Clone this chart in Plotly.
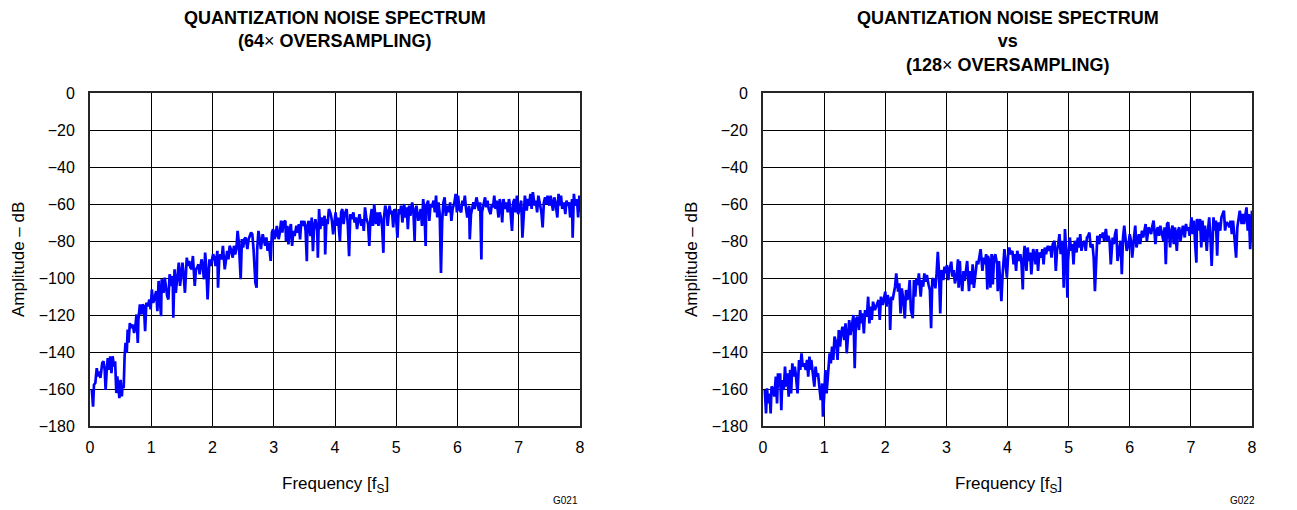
import plotly.graph_objects as go
from plotly.subplots import make_subplots

# ---- values ---------------------------------------------------------------
Y_TICKS = [0, -20, -40, -60, -80, -100, -120, -140, -160, -180]
Y_TICK_TEXT = ["0", "\u221220", "\u221240", "\u221260", "\u221280", "\u2212100",
               "\u2212120", "\u2212140", "\u2212160", "\u2212180"]
X_TICKS = [0, 1, 2, 3, 4, 5, 6, 7, 8]

# 64x oversampling: frequency [fS] / amplitude [dB]
LEFT_FREQ = [
    0.03, 0.05, 0.065, 0.087, 0.11, 0.13, 0.15, 0.17, 0.2, 0.22,
    0.24, 0.255, 0.27, 0.29, 0.315, 0.33, 0.35, 0.37, 0.39, 0.41,
    0.43, 0.445, 0.47, 0.48, 0.5, 0.52, 0.53, 0.55, 0.565, 0.58,
    0.6, 0.615, 0.63, 0.65, 0.67, 0.7, 0.72, 0.74, 0.76, 0.78,
    0.79, 0.815, 0.84, 0.86, 0.88, 0.9, 0.92, 0.945, 0.97, 0.99,
    1.01, 1.03, 1.05, 1.08, 1.1, 1.12, 1.14, 1.16, 1.17, 1.2,
    1.22, 1.24, 1.26, 1.28, 1.3, 1.33, 1.35, 1.36, 1.38, 1.4,
    1.42, 1.45, 1.47, 1.49, 1.51, 1.53, 1.55, 1.58, 1.6, 1.62,
    1.64, 1.66, 1.68, 1.71, 1.73, 1.75, 1.77, 1.79, 1.82, 1.84,
    1.86, 1.88, 1.9, 1.92, 1.95, 1.97, 1.99, 2.01, 2.03, 2.05,
    2.08, 2.09, 2.11, 2.13, 2.15, 2.17, 2.2, 2.22, 2.24, 2.26,
    2.28, 2.3, 2.33, 2.35, 2.37, 2.39, 2.41, 2.43, 2.46, 2.48,
    2.5, 2.52, 2.54, 2.57, 2.59, 2.61, 2.63, 2.65, 2.67, 2.7,
    2.72, 2.73, 2.75, 2.77, 2.79, 2.82, 2.84, 2.86, 2.88, 2.9,
    2.92, 2.95, 2.97, 2.99, 3.01, 3.03, 3.05, 3.08, 3.1, 3.12,
    3.14, 3.16,
    3.19, 3.2, 3.22, 3.24, 3.26, 3.28, 3.3, 3.32, 3.34, 3.37,
    3.39, 3.41, 3.43, 3.45, 3.48, 3.5, 3.52, 3.54, 3.55, 3.57,
    3.6, 3.62, 3.64, 3.66, 3.68, 3.71, 3.72, 3.74, 3.76, 3.78,
    3.8, 3.83, 3.84, 3.86, 3.88, 3.9, 3.93, 3.95, 3.97, 3.99,
    4.01, 4.03, 4.05, 4.08, 4.1, 4.12, 4.14, 4.16, 4.19, 4.21,
    4.23, 4.25, 4.27, 4.3, 4.32, 4.34, 4.36, 4.38, 4.4, 4.43,
    4.45, 4.47, 4.49, 4.51, 4.54, 4.56, 4.58, 4.6, 4.62, 4.64,
    4.67, 4.69, 4.71, 4.73, 4.75, 4.77, 4.79, 4.8, 4.82, 4.84,
    4.86, 4.89, 4.91, 4.93, 4.95, 4.97, 4.99, 5.02, 5.04, 5.06,
    5.08, 5.1, 5.13, 5.15, 5.17, 5.19, 5.21, 5.23, 5.26, 5.28,
    5.3, 5.31, 5.33, 5.36, 5.38, 5.4, 5.42, 5.44, 5.46, 5.48,
    5.49, 5.52, 5.54, 5.56, 5.58, 5.61, 5.63, 5.65, 5.67, 5.69,
    5.71, 5.73, 5.75, 5.77, 5.79, 5.81, 5.84, 5.86, 5.88, 5.9,
    5.92, 5.95, 5.97, 5.99, 6.01, 6.03, 6.06, 6.08, 6.1, 6.12,
    6.14, 6.16, 6.19, 6.2, 6.22, 6.24, 6.26, 6.28, 6.31, 6.33,
    6.35, 6.37, 6.39, 6.4, 6.43, 6.45, 6.47, 6.49, 6.51, 6.54,
    6.56, 6.58, 6.6, 6.62, 6.64, 6.67, 6.69, 6.71, 6.73, 6.75,
    6.78, 6.8, 6.82, 6.84, 6.86, 6.89, 6.91, 6.93, 6.95, 6.97,
    6.99, 7.02, 7.04, 7.06, 7.08, 7.1, 7.13, 7.15, 7.17, 7.19,
    7.21, 7.23, 7.26, 7.28, 7.3, 7.32, 7.34, 7.37, 7.39, 7.41,
    7.43, 7.45, 7.47, 7.5, 7.52, 7.54, 7.56, 7.58, 7.6, 7.63,
    7.65, 7.67, 7.69, 7.71, 7.74, 7.76, 7.78, 7.8, 7.82, 7.84,
    7.87, 7.88, 7.9, 7.92, 7.95, 7.97, 7.99, 8.0,
]
LEFT_DB = [
    -160.4, -169.5, -157.7, -156.8, -148.7, -153.2, -150.5, -154, -146, -145,
    -149.6, -160.5, -151.4, -143.3, -149.6, -142.3, -151.4, -142.3, -147.8, -145,
    -162.2, -153.2, -161.3, -165, -155, -164, -158.6, -159.5, -142.3, -135,
    -140.5, -127.9, -135, -124.3, -127, -125.2, -129.7, -126.1, -119.7, -135.1,
    -122.4, -114.3, -119.7, -114.3, -115.2, -128.8, -113.4, -115.2, -111.6, -117,
    -106.2, -113.4, -111.6, -107.1, -117.9, -101.6, -111.6, -120.6, -100.7, -108,
    -99.8, -106.2, -109.8, -111.6, -98, -104.3, -98.9, -121.5, -95.3, -108,
    -99.8, -91.7, -104.3, -96.2, -91.7, -98.9, -108, -89, -93.5, -90.8,
    -94.4, -95.3, -88.1, -104.3, -95.3, -94.4, -92.6, -98, -89.9, -93.5,
    -100.7, -86.3, -95.3, -111.6, -89.9, -93.5, -90.8, -87.2, -89, -93.5,
    -85.3, -105.2, -89.9, -87.2, -89.9, -82.6, -95.3, -88.1, -85.3, -89.9,
    -82.6, -84.4, -89, -82.6, -87.2, -84.4, -74.5, -80.8, -100.7, -79,
    -83.5, -79, -78.1, -84.4, -79, -77.2, -75.4, -76.3, -84.4, -102.5,
    -105.2, -84.4, -74.5, -79, -84.4, -76.3, -80.8, -82.6, -78.1, -85.3,
    -80.8, -90.8, -75.4, -73.6, -79, -77.2, -71.8, -79, -75.4, -69,
    -75.4, -69.9,
    -69.1, -80, -71.8, -81.8, -73.6, -70.9, -82.7, -74.5, -77.3, -71.8,
    -75.5, -70.9, -79.1, -69.1, -71.8, -69.1, -74.5, -90.9, -71.8, -69.1,
    -77.3, -67.3, -85.5, -71.8, -68.2, -74.5, -89.1, -62.7, -73.6, -67.3,
    -71.8, -66.4, -87.3, -68.2, -70.9, -62.7, -65.5, -69.1, -76.4, -68.2,
    -64.5, -71.8, -67.3, -80, -64.5, -62.7, -70.9, -65.5, -62.7, -71.8,
    -88.2, -65.5, -68.2, -64.5, -70, -67.3, -73.6, -69.1, -65.5, -71.8,
    -68.2, -74.5, -61.8, -67.3, -70.9, -82.7, -67.3, -62.7, -71.8, -60,
    -70.9, -64.5, -71.8, -64.5, -67.3, -72.7, -86.4, -67.3, -60.9, -63.6,
    -71.8, -60.9, -65.5, -63.6, -72.7, -62.7, -64.5, -78.2, -62.7, -65.5,
    -60.9, -70, -60, -67.3, -61.8, -73.6, -60.9, -66.4, -59.1, -63.6,
    -80, -64.5, -60.9, -69.1, -64.5, -62.7, -71.8, -57.3, -64.5, -82.7,
    -60.9, -58.2, -69.1, -60, -61.8, -58.2, -64.5, -55.5, -67.3, -59.1,
    -65.5, -97.3, -69.1, -59.1, -56.4, -66.4, -60.9, -64.5, -59.1, -69.1,
    -62.7, -59.1, -54.5, -64.5, -55.5, -62.7, -64.5, -58.2, -60.9, -55.5,
    -62.7, -67.3, -60.9, -79.1, -65.5, -60.9, -59.1, -62.7, -56.4, -60,
    -63.6, -59.1, -90, -64.5, -59.1, -56.4, -61.8, -58.2, -62.7, -65.5,
    -60, -61.8, -55.5, -62.7, -58.2, -67.3, -57.3, -60.9, -70, -57.3,
    -62.7, -59.1, -64.5, -57.3, -61.8, -74.5, -59.1, -57.3, -64.5, -55.5,
    -65.5, -60.9, -58.2, -78.2, -62.7, -55.5, -63.6, -57.3, -60.9, -54.5,
    -62.7, -53.6, -60.9, -58.2, -64.5, -55.5, -59.1, -64.5, -72.7, -59.1,
    -56.4, -60, -55.5, -60.9, -55.5, -59.1, -63.6, -56.4, -59.1, -67.3,
    -54.5, -60.9, -55.5, -62.7, -59.1, -65.5, -58.2, -60.9, -59.1, -67.3,
    -57.3, -78.2, -54.5, -60.9, -57.3, -67.3, -55.5, -64.5,
]

# 128x oversampling: frequency [fS] / amplitude [dB]
RIGHT_FREQ = [
    0.03, 0.05, 0.065, 0.087, 0.11, 0.125, 0.14, 0.16, 0.185, 0.21,
    0.23, 0.245, 0.26, 0.28, 0.3, 0.315, 0.34, 0.36, 0.38, 0.4,
    0.42, 0.445, 0.46, 0.48, 0.5, 0.52, 0.54, 0.565, 0.59, 0.61,
    0.63, 0.65, 0.67, 0.7, 0.72, 0.74, 0.76, 0.78, 0.79, 0.815,
    0.84, 0.86, 0.88, 0.9, 0.92, 0.945, 0.97, 0.98, 1.0, 1.02,
    1.04, 1.065, 1.09, 1.11, 1.13, 1.15, 1.17, 1.2, 1.22, 1.24,
    1.26, 1.28, 1.3, 1.33, 1.35, 1.37, 1.39, 1.41, 1.43, 1.46,
    1.48, 1.5, 1.52, 1.54, 1.57, 1.59, 1.61, 1.63, 1.65, 1.67,
    1.7, 1.72, 1.74, 1.76, 1.78, 1.8, 1.83, 1.85, 1.87, 1.89,
    1.91, 1.93, 1.96, 1.98, 2.0, 2.02, 2.04, 2.07, 2.08, 2.1,
    2.12, 2.14, 2.16, 2.18, 2.21, 2.23, 2.25, 2.27, 2.29, 2.32,
    2.34, 2.36, 2.38, 2.4, 2.42, 2.45, 2.47, 2.49, 2.51, 2.53,
    2.55, 2.58, 2.6, 2.62, 2.64, 2.66, 2.68, 2.71, 2.73, 2.75,
    2.77, 2.79, 2.82, 2.84, 2.86, 2.88, 2.9, 2.92, 2.95, 2.97,
    2.99, 3.01, 3.03, 3.05, 3.08, 3.1, 3.12, 3.14,
    3.17, 3.19, 3.2, 3.22, 3.23, 3.26, 3.28, 3.3, 3.32, 3.34,
    3.37, 3.39, 3.41, 3.43, 3.45, 3.48, 3.5, 3.52, 3.54, 3.56,
    3.59, 3.61, 3.63, 3.65, 3.67, 3.68, 3.7, 3.72, 3.74, 3.76,
    3.78, 3.8, 3.83, 3.84, 3.86, 3.88, 3.9, 3.92, 3.95, 3.97,
    3.99, 4.01, 4.03, 4.05, 4.08, 4.1, 4.12, 4.14, 4.16, 4.19,
    4.21, 4.23, 4.25, 4.26, 4.28, 4.31, 4.33, 4.35, 4.37, 4.39,
    4.42, 4.44, 4.46, 4.48, 4.5, 4.52, 4.55, 4.57, 4.59, 4.61,
    4.63, 4.66, 4.68, 4.7, 4.72, 4.74, 4.77, 4.79, 4.81, 4.83,
    4.85, 4.87, 4.9, 4.92, 4.94, 4.96, 4.98, 4.99, 5.02, 5.04,
    5.06, 5.08, 5.1, 5.13, 5.15, 5.17, 5.19, 5.21, 5.23, 5.26,
    5.28, 5.3, 5.32, 5.34, 5.36, 5.39, 5.41, 5.43, 5.45, 5.47,
    5.5, 5.52, 5.54, 5.56, 5.58, 5.61, 5.63, 5.65, 5.67, 5.69,
    5.72, 5.74, 5.76, 5.78, 5.8, 5.82, 5.85, 5.87, 5.89, 5.91,
    5.93, 5.95, 5.98, 6.0, 6.02, 6.04, 6.07, 6.09, 6.11, 6.13,
    6.15, 6.17, 6.2, 6.22, 6.24, 6.26, 6.28, 6.31, 6.33, 6.35,
    6.37, 6.39, 6.42, 6.44, 6.46, 6.48, 6.5, 6.52, 6.55, 6.57,
    6.59, 6.61, 6.63, 6.66, 6.68, 6.7, 6.72, 6.74, 6.77, 6.79,
    6.81, 6.83, 6.85, 6.87, 6.9, 6.92, 6.94, 6.96, 6.98, 7.01,
    7.03, 7.05, 7.07, 7.09, 7.1, 7.13, 7.15, 7.17, 7.19, 7.21,
    7.23, 7.26, 7.28, 7.3, 7.32, 7.34, 7.37, 7.39, 7.41, 7.43,
    7.45, 7.48, 7.5, 7.52, 7.54, 7.56, 7.58, 7.61, 7.63, 7.65,
    7.67, 7.69, 7.72, 7.74, 7.76, 7.78, 7.8, 7.83, 7.85, 7.87,
    7.89, 7.91, 7.93, 7.95, 7.97, 7.99, 8.0,
]
RIGHT_DB = [
    -160.5, -173.2, -159.6, -167.8, -162.4, -173.2, -158.7, -159.6, -164.1, -153.3,
    -167.8, -151.5, -158.7, -151.5, -171.4, -155.1, -160.5, -147.9, -158.7, -151.5,
    -164.1, -149.7, -162.4, -146.1, -153.3, -147.9, -153.3, -162.4, -144.3, -149.7,
    -140.7, -147.9, -146.1, -149.7, -144.3, -153.3, -142.5, -149.7, -144.3, -153.3,
    -158.7, -147.9, -153.3, -151.5, -158.7, -166, -157, -175, -164.1, -149.7,
    -162.4, -153.3, -140.7, -146.1, -137.1, -144.3, -131.7, -135.3, -144.3, -128.1,
    -137.1, -129.9, -126.3, -133.5, -124.5, -140.7, -128.1, -122.7, -130.8, -124.5,
    -120, -148.8, -122.7, -120.9, -128.1, -117.3, -124.5, -119.1, -129.9, -117.3,
    -120.9, -110.1, -124.5, -115.5, -122.7, -112.8, -117.3, -115.5, -113.7, -111.9,
    -122.7, -110.1, -114.6, -110.1, -107.4, -115.5, -109.2, -113.7, -128.1, -110.1,
    -111.9, -108.3, -104.7, -97.5, -107.4, -102.9, -119.1, -105.6, -110.1, -121.8,
    -106.5, -111.9, -109.2, -101.1, -117.3, -121.8, -101.1, -110.1, -100.2, -103.8,
    -97.5, -110.1, -101.1, -104.7, -97.5, -102, -98.4, -103.8, -106.5, -127.2,
    -101.1, -100.2, -105.6, -97.5, -85.8, -97.5, -119.1, -95.7, -101.1, -93.9,
    -97.5, -93, -101.1, -95.7, -91.2, -99.3, -95.7, -102.9,
    -98, -89.9, -105.3, -90.8, -98, -107.1, -96.2, -101.6, -96.2, -90.8,
    -107.1, -96.2, -103.5, -92.6, -105.3, -96.2, -90.8, -92.6, -89, -84.4,
    -96.2, -89, -92.6, -87.1, -106.2, -88, -90.8, -105.3, -87.1, -103.5,
    -89, -87.1, -92.6, -107.1, -90.8, -99.8, -112.5, -98, -84.4, -92.6,
    -99.8, -88, -83.5, -87.1, -85.3, -92.6, -87.1, -96.2, -85.3, -90.8,
    -87.1, -92.6, -106.2, -90.8, -82.6, -96.2, -83.5, -90.8, -86.2, -98,
    -84.4, -87.1, -92.6, -84.4, -96.2, -86.2, -89, -84.4, -92.6, -83.5,
    -87.1, -82.6, -85.3, -82.6, -89, -81.7, -79.9, -96.2, -85.3, -81.7,
    -76.3, -87.1, -79.9, -105.3, -73.5, -85.3, -110.7, -90.8, -78.1, -85.3,
    -81.7, -92.6, -79.9, -86.2, -78.1, -83.5, -76.3, -85.3, -81.7, -79.9,
    -85.3, -78.1, -77.2, -75.4, -83.5, -81.7, -89, -107.1, -90.8, -77.2,
    -81.7, -76.3, -78.1, -75.4, -79.9, -73.5, -79.9, -77.2, -79.9, -92.6,
    -78.1, -81.7, -76.3, -73.5, -90.8, -85.3, -79.9, -98, -78.1, -71.7,
    -79.9, -85.3, -81.7, -76.3, -79.9, -89, -78.1, -71.7, -83.5, -79.9,
    -76.3, -81.7, -74.4, -78.1, -73.5, -70.8, -79.9, -72.6, -74.4, -76.3,
    -71.7, -69, -81.7, -74.4, -72.6, -77.2, -71.7, -74.4, -79.9, -72.6,
    -92.6, -70.8, -69.9, -83.5, -74.4, -71.7, -81.7, -72.6, -85.3, -74.4,
    -72.6, -79.9, -74.4, -71.7, -78.1, -70.8, -74.4, -72.6, -77.2, -67.2,
    -76.3, -69, -81.7, -91.7, -68.1, -74.4, -68.1, -83.5, -69, -79.9,
    -71.7, -85.3, -74.4, -67.2, -78.1, -93.5, -67.2, -74.4, -69, -88,
    -69.9, -74.4, -67.2, -65.4, -63.6, -74.4, -69.9, -70.8, -72.6, -69,
    -76.3, -69, -81.7, -89, -72.6, -67.2, -63.6, -70.8, -65.4, -70.8,
    -67.2, -61.8, -74.4, -65.4, -84.4, -69, -63.6,
]

assert len(LEFT_FREQ) == len(LEFT_DB), (len(LEFT_FREQ), len(LEFT_DB))
assert len(RIGHT_FREQ) == len(RIGHT_DB), (len(RIGHT_FREQ), len(RIGHT_DB))

FONT = "Liberation Sans, Arial, Helvetica, sans-serif"
# the page body keeps its default 8px margin, so the figure is drawn 8px in
# from the top-left corner of the 1297x510 window
OFFSET = 8
W, H = 1297 - OFFSET, 510 - OFFSET


def px_x(p):
    return (p - OFFSET) / W


def px_y(p):
    return 1 - (p - OFFSET) / H


fig = make_subplots(rows=1, cols=2)
fig.add_trace(go.Scatter(x=LEFT_FREQ, y=LEFT_DB, mode="lines",
                         line=dict(color="#0000ff", width=2.7), showlegend=False),
              row=1, col=1)
fig.add_trace(go.Scatter(x=RIGHT_FREQ, y=RIGHT_DB, mode="lines",
                         line=dict(color="#0000ff", width=2.7), showlegend=False),
              row=1, col=2)

axis_common = dict(
    showgrid=True, gridcolor="black", gridwidth=1,
    showline=True, linecolor="#262626", linewidth=2, mirror=True,
    zeroline=False, ticks="", automargin=False,
    tickfont=dict(family=FONT, size=16, color="black"),
)
fig.update_xaxes(range=[0, 8], tickvals=X_TICKS, ticklabelstandoff=6, **axis_common)
fig.update_yaxes(range=[-180, 0], tickvals=Y_TICKS, ticktext=Y_TICK_TEXT,
                 ticklabelstandoff=10, **axis_common)

# plot areas placed to match the reference frames
fig.update_layout(
    xaxis=dict(domain=[px_x(90), px_x(580)]),
    xaxis2=dict(domain=[px_x(763), px_x(1252)]),
    yaxis=dict(domain=[px_y(426), px_y(93)]),
    yaxis2=dict(domain=[px_y(426), px_y(93)]),
)

ann = []
title_font = dict(family=FONT, size=18, color="black")
ann.append(dict(text="<b>QUANTIZATION NOISE SPECTRUM</b><br><b>(64</b>\u00d7<b> OVERSAMPLING)</b>",
                x=px_x(335), y=px_y(6), xanchor="center", yanchor="top",
                font=title_font))
ann.append(dict(text="<b>QUANTIZATION NOISE SPECTRUM</b><br><b>vs</b><br><b>(128</b>\u00d7<b> OVERSAMPLING)</b>",
                x=px_x(1008), y=px_y(6), xanchor="center", yanchor="top",
                font=title_font))
label_font = dict(family=FONT, size=17, color="black")
for cx, ylab_x, code, code_x in ((335, 18, "G021", 565), (1008, 691, "G022", 1242)):
    ann.append(dict(text="Frequency [f<sub>S</sub>]", x=px_x(cx), y=px_y(485),
                    xanchor="center", yanchor="middle", font=label_font))
    ann.append(dict(text="Amplitude \u2013 dB", x=px_x(ylab_x), y=px_y(260),
                    xanchor="center", yanchor="middle", textangle=-90, font=label_font))
    ann.append(dict(text=code, x=px_x(code_x), y=px_y(500), xanchor="center",
                    yanchor="middle", font=dict(family=FONT, size=10, color="black")))
for a in ann:
    a.update(xref="paper", yref="paper", showarrow=False)

fig.update_layout(
    width=W, height=H,
    margin=dict(l=0, r=0, t=0, b=0),
    paper_bgcolor="white", plot_bgcolor="white",
    annotations=ann,
    showlegend=False,
)

fig.write_html("out.html")
